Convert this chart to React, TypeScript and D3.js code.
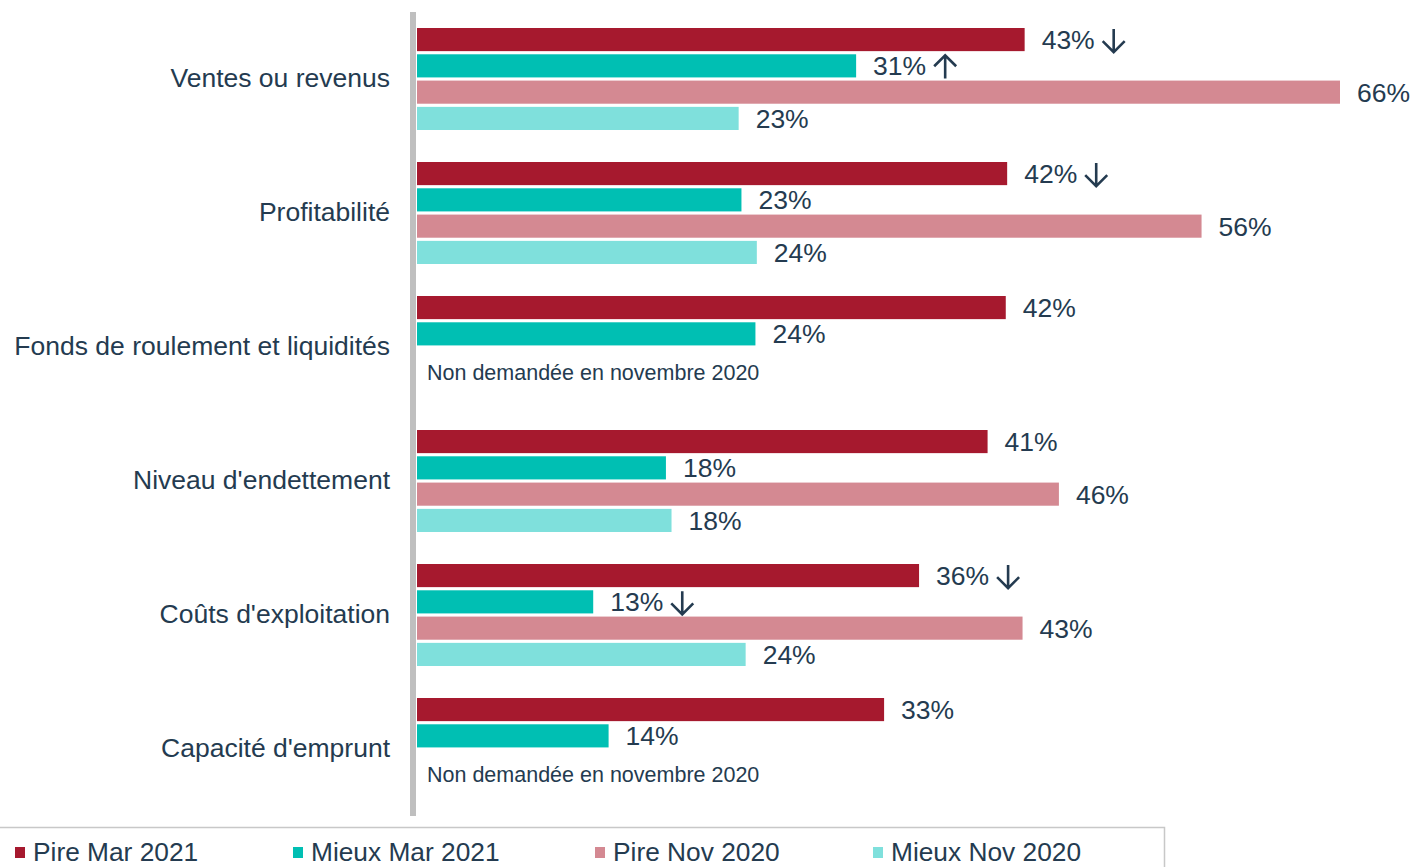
import React, { useEffect, useRef } from "react";
import * as d3 from "d3";

const categories = [
  "Ventes ou revenus",
  "Profitabilité",
  "Fonds de roulement et liquidités",
  "Niveau d'endettement",
  "Coûts d'exploitation",
  "Capacité d'emprunt",
];

const seriesNames = ["Pire Mar 2021", "Mieux Mar 2021", "Pire Nov 2020", "Mieux Nov 2020"];
const seriesColors = ["#a6192e", "#00bfb3", "#d48992", "#7fe0dc"];

// bar lengths (labels show the rounded value)
const pireMar = [43.45, 42.2, 42.1, 40.8, 35.9, 33.4];
const mieuxMar = [31.4, 23.2, 24.2, 17.8, 12.6, 13.7];
const pireNov = [66.0, 56.1, null, 45.9, 43.3, null];
const mieuxNov = [23.0, 24.3, null, 18.2, 23.5, null];

// trend arrows next to the March 2021 labels
const trendPire = ["down", "down", null, null, "down", null];
const trendMieux = ["up", null, null, null, "down", null];

const missingNote = "Non demandée en novembre 2020";

const W = 1412;
const H = 867;
const textColor = "#243b50";
const font = "'Liberation Sans', Arial, sans-serif";
const fontSize = 26.5;

export default function App() {
  const ref = useRef<SVGSVGElement>(null);

  useEffect(() => {
    const svg = d3.select(ref.current);
    svg.selectAll("*").remove();

    const series = [pireMar, mieuxMar, pireNov, mieuxNov];
    const trends = [trendPire, trendMieux, null, null];

    const x = d3.scaleLinear().domain([0, 66]).range([417, 1340]);
    const y = d3.scaleBand().domain(categories).range([12, 816]);
    const y1 = d3
      .scaleBand()
      .domain(seriesNames)
      .range([16, y.bandwidth() - 16])
      .paddingInner(0.12);
    const fmt = (v: number) => Math.round(v) + "%";

    // category labels
    svg
      .append("g")
      .selectAll("text")
      .data(categories)
      .enter()
      .append("text")
      .attr("x", 390)
      .attr("y", (d) => y(d)! + y.bandwidth() / 2 - 1)
      .attr("dy", "0.35em")
      .attr("text-anchor", "end")
      .attr("font-family", font)
      .attr("font-size", fontSize)
      .attr("fill", textColor)
      .text((d) => d);

    const groups = svg
      .append("g")
      .selectAll("g")
      .data(categories)
      .enter()
      .append("g")
      .attr("transform", (d) => `translate(0,${y(d)})`);

    groups.each(function (cat, ci) {
      const g = d3.select(this);
      series.forEach((vals, si) => {
        const v = vals[ci];
        const name = seriesNames[si];
        if (v == null) return;
        const yy = y1(name)!;
        g.append("rect")
          .attr("x", x(0))
          .attr("y", yy)
          .attr("width", x(v) - x(0))
          .attr("height", y1.bandwidth())
          .attr("fill", seriesColors[si]);
        const label = g
          .append("text")
          .attr("x", x(v) + 17)
          .attr("y", yy + y1.bandwidth() / 2)
          .attr("dy", "0.36em")
          .attr("font-family", font)
          .attr("font-size", fontSize)
          .attr("fill", textColor)
          .text(fmt(v));
        const tr = trends[si] ? trends[si]![ci] : null;
        if (tr) {
          const tw = (label.node() as SVGTextElement).getComputedTextLength();
          const ax = x(v) + 17 + tw + 19;
          const top = yy + 1;
          const bot = yy + y1.bandwidth() + 1;
          const path = d3.path();
          if (tr === "down") {
            path.moveTo(ax, top);
            path.lineTo(ax, bot);
            path.moveTo(ax - 11, bot - 11);
            path.lineTo(ax, bot);
            path.lineTo(ax + 11, bot - 11);
          } else {
            path.moveTo(ax, bot);
            path.lineTo(ax, top);
            path.moveTo(ax - 11, top + 11);
            path.lineTo(ax, top);
            path.lineTo(ax + 11, top + 11);
          }
          g.append("path")
            .attr("d", path.toString())
            .attr("fill", "none")
            .attr("stroke", textColor)
            .attr("stroke-width", 2.6);
        }
      });
      if (pireNov[ci] == null && mieuxNov[ci] == null) {
        g.append("text")
          .attr("x", 427)
          .attr("y", y1(seriesNames[2])! + y1.bandwidth() / 2 + 12)
          .attr("dy", "0.35em")
          .attr("font-family", font)
          .attr("font-size", 21.5)
          .attr("fill", textColor)
          .text(missingNote);
      }
    });

    // vertical axis line
    svg
      .append("line")
      .attr("x1", 413)
      .attr("x2", 413)
      .attr("y1", 12)
      .attr("y2", 816)
      .attr("stroke", "#bfbfbf")
      .attr("stroke-width", 6);

    // legend box
    svg
      .append("path")
      .attr("d", `M0,827.5H1164.5V${H}`)
      .attr("fill", "none")
      .attr("stroke", "#c8c8c8")
      .attr("stroke-width", 1.5);

    const legendX = [15, 293, 595, 873];
    const legend = svg
      .append("g")
      .selectAll("g")
      .data(seriesNames)
      .enter()
      .append("g")
      .attr("transform", (d, i) => `translate(${legendX[i]},852)`);
    legend
      .append("rect")
      .attr("x", 0)
      .attr("y", -5)
      .attr("width", 10)
      .attr("height", 11)
      .attr("fill", (d, i) => seriesColors[i]);
    legend
      .append("text")
      .attr("x", 18)
      .attr("y", 0)
      .attr("dy", "0.35em")
      .attr("font-family", font)
      .attr("font-size", 26.3)
      .attr("fill", textColor)
      .text((d) => d);
  }, []);

  return (
    <svg
      ref={ref}
      width={W}
      height={H}
      style={{ position: "absolute", left: 0, top: 0, background: "#fff" }}
    />
  );
}
